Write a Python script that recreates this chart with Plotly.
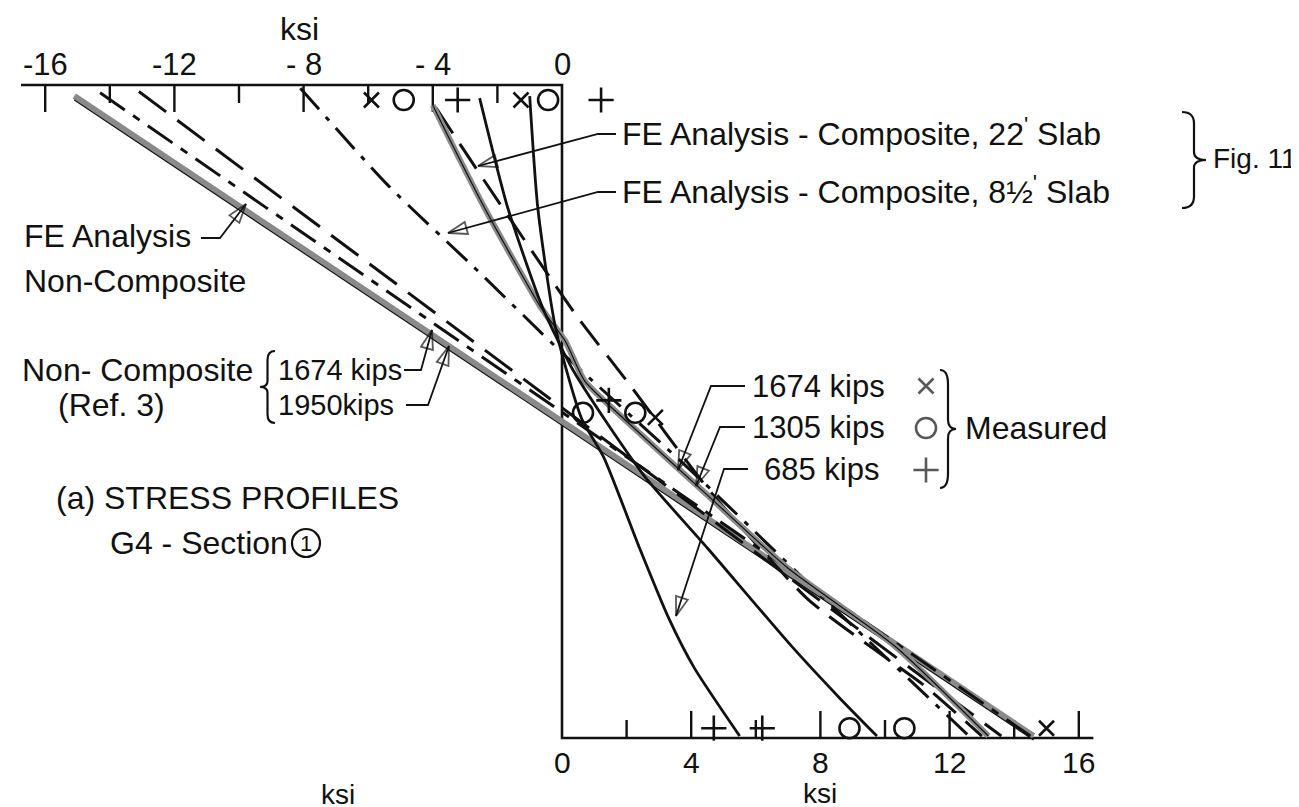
import plotly.graph_objects as go

# ---------------- data (stress in ksi, depth as fraction of girder depth: 0 = top flange, 1 = bottom flange) ----------------
top_tick_values = [-16, -14, -12, -10, -8, -6, -4, -2]
top_major_values = [-16, -12, -8, -4]
top_label_values = [-16, -12, -8, -4, 0]
top_label_text = ["-16", "-12", "- 8", "- 4", "0"]
bottom_tick_values = [2, 4, 6, 8, 10, 12, 14, 16]
bottom_major_values = [4, 8, 12, 16]
bottom_label_values = [0, 4, 8, 12, 16]
bottom_label_text = ["0", "4", "8", "12", "16"]

# FE analysis, non-composite and Ref. 3 non-composite profiles
fe_nc_stress = [-14.3, 14.5]
fe_nc_depth = [0.012, 0.997]
ref3_1674_stress = [-15.1, 14.6]
ref3_1674_depth = [0.017, 0.997]
ref3_1950_stress = [-13.1, 13.6]
ref3_1950_depth = [0.010, 0.997]

# FE analysis, composite profiles
fe_8half_stress = [-8.1, -5.4, -2.6, 0.0, 4.2, 8.4, 12.6]
fe_8half_depth = [0.005, 0.153, 0.285, 0.410, 0.600, 0.800, 0.997]
fe_22_stress = [-3.9, -2.67, 0.43, 2.05, 4.5, 7.6, 9.6, 11.2, 13.0]
fe_22_depth = [0.035, 0.127, 0.352, 0.456, 0.617, 0.787, 0.862, 0.919, 0.997]

# measured stress profiles
prof_685_stress = [-1.0, -0.75, -0.2, 0.6, 1.3, 2.4, 3.3, 4.1, 5.5]
prof_685_depth = [0.017, 0.188, 0.372, 0.510, 0.571, 0.709, 0.816, 0.893, 0.997]
prof_1305_stress = [-2.55, -1.68, -0.6, 0.3, 1.4, 2.6, 4.5, 7.1, 8.6, 9.75]
prof_1305_depth = [0.020, 0.188, 0.341, 0.433, 0.518, 0.602, 0.709, 0.859, 0.939, 0.997]
prof_1674_stress = [-4.0, -3.45, -2.4, -0.65, 0.1, 0.7, 2.0, 4.5, 7.0, 10.3, 13.2]
prof_1674_depth = [0.031, 0.086, 0.188, 0.341, 0.392, 0.453, 0.515, 0.628, 0.740, 0.859, 0.997]

# measured points
pts_1674_stress = [-5.9, -1.27, 2.89, 15.0]
pts_1674_depth = [0.023, 0.023, 0.509, 0.985]
pts_1305_stress = [-4.9, -0.43, 0.65, 2.27, 8.9, 10.6]
pts_1305_depth = [0.023, 0.023, 0.502, 0.502, 0.985, 0.985]
pts_685_stress = [-3.23, 1.21, 1.45, 4.7, 6.2]
pts_685_depth = [0.023, 0.023, 0.483, 0.985, 0.985]

# ---------------- layout helpers (pixel -> axis units, used for annotation placement only) ----------------
W, H = 1299, 807
X0, KX = 554.0, 32.3
Y0, KY = 77.0, 653.0


def sx(px):
    return (px - X0) / KX


def sy(py):
    return (py - Y0) / KY


FONT = "Liberation Sans, Arial, sans-serif"
BLACK = "#111111"
GRAY = "#8a8a8a"

fig = go.Figure()


def line(xs, ys, color=BLACK, width=3, dash="solid", shape="spline"):
    fig.add_trace(go.Scatter(x=xs, y=ys, mode="lines", hoverinfo="skip",
                             line=dict(color=color, width=width, dash=dash, shape=shape, smoothing=0.6)))


# ---- axes ----
line([sx(13), 0, 0, 16.45], [0, 0, 1, 1], width=2.6, shape="linear")
tx, ty = [], []
for v in top_tick_values:
    ln = 27 if v in top_major_values else 18
    tx += [v, v, None]
    ty += [0, ln / KY, None]
for v in bottom_tick_values:
    ln = 27 if v in bottom_major_values else 18
    tx += [v, v, None]
    ty += [1, 1 - ln / KY, None]
fig.add_trace(go.Scatter(x=tx, y=ty, mode="lines", hoverinfo="skip", line=dict(color=BLACK, width=2.4)))

# ---- profiles ----
line(ref3_1674_stress, ref3_1674_depth, color=GRAY, width=6)
line(ref3_1674_stress, [d + 0.006 for d in ref3_1674_depth], color=BLACK, width=1.2)
line(fe_nc_stress, fe_nc_depth, width=3, dash="30px,10px,8px,10px")
line(ref3_1950_stress, ref3_1950_depth, width=3, dash="34px,14px")
line(fe_8half_stress, fe_8half_depth, width=3, dash="28px,10px,5px,10px")
line(fe_22_stress, fe_22_depth, width=3, dash="30px,13px")
line(prof_1674_stress, prof_1674_depth, color=GRAY, width=6)
line(prof_1674_stress, prof_1674_depth, color=BLACK, width=1.2)
line(prof_1305_stress, prof_1305_depth, width=2.8)
line(prof_685_stress, prof_685_depth, width=2.8)

# ---- measured points ----
mk = dict(color=BLACK, line=dict(color=BLACK, width=2.6))
fig.add_trace(go.Scatter(x=pts_1674_stress, y=pts_1674_depth, mode="markers", hoverinfo="skip",
                         marker=dict(symbol="x-thin-open", size=15, **mk)))
fig.add_trace(go.Scatter(x=pts_1305_stress, y=pts_1305_depth, mode="markers", hoverinfo="skip",
                         marker=dict(symbol="circle-open", size=20, **mk)))
fig.add_trace(go.Scatter(x=pts_685_stress, y=pts_685_depth, mode="markers", hoverinfo="skip",
                         marker=dict(symbol="cross-thin-open", size=18, **mk)))


# ---- leaders with arrowheads ----
def leader(pts):
    xs = [sx(p[0]) for p in pts]
    ys = [sy(p[1]) for p in pts]
    sizes = [0] * (len(pts) - 1) + [20]
    fig.add_trace(go.Scatter(x=xs, y=ys, mode="lines+markers", hoverinfo="skip",
                             line=dict(color=BLACK, width=1.8),
                             marker=dict(symbol="arrow-open", size=sizes, angleref="previous",
                                         color=BLACK, line=dict(color=BLACK, width=1.8))))


leader([(608, 126), (590, 126), (470, 158)])
leader([(608, 184), (590, 184), (440, 225)])
leader([(193, 230), (212, 230), (238, 196)])
leader([(396, 362), (413, 362), (424, 322)])
leader([(398, 397), (420, 397), (441, 338)])
leader([(737, 378), (703, 378), (670, 462)])
leader([(737, 419), (712, 419), (688, 478)])
leader([(740, 461), (716, 461), (668, 608)])


# ---- braces ----
def brace(xbody, xtip, ytop, ybot):
    x, t = sx(xbody), sx(xtip)
    y0, y1 = sy(ytop), sy(ybot)
    ym = (y0 + y1) / 2
    h = y1 - y0
    xm = (x + t) / 2
    p = (f"M {x},{y0} Q {xm},{y0} {xm},{y0 + 0.12 * h} L {xm},{ym - 0.08 * h} "
         f"Q {xm},{ym} {t},{ym} Q {xm},{ym} {xm},{ym + 0.08 * h} L {xm},{y1 - 0.12 * h} "
         f"Q {xm},{y1} {x},{y1}")
    fig.add_shape(type="path", path=p, xref="x", yref="y", line=dict(color=BLACK, width=2.2))


brace(1174, 1198, 104, 200)
brace(267, 252, 343, 415)
brace(932, 948, 362, 480)


# ---- text ----
def text(s, px, py, size=32, anchor="left"):
    fig.add_annotation(x=sx(px), y=sy(py), xref="x", yref="y", text=s, showarrow=False,
                       xanchor=anchor, yanchor="middle",
                       font=dict(family=FONT, size=size, color=BLACK))


for v, s in zip(top_label_values, top_label_text):
    fig.add_annotation(x=v, y=sy(56), text=s, showarrow=False, xanchor="center", yanchor="middle",
                       font=dict(family=FONT, size=31, color=BLACK))
for v, s in zip(bottom_label_values, bottom_label_text):
    fig.add_annotation(x=v, y=sy(754), text=s, showarrow=False, xanchor="center", yanchor="middle",
                       font=dict(family=FONT, size=30, color=BLACK))
text("ksi", 291, 21, anchor="center")
text("ksi", 812, 785, size=28, anchor="center")
text("ksi", 330, 786, size=28, anchor="center")

text("FE Analysis - Composite, 22<sup>'</sup> Slab", 612, 124)
text("FE Analysis - Composite, 8½<sup>'</sup> Slab", 612, 182)
text("Fig. 11", 1203, 150, size=28)
text("FE Analysis", 14, 228)
text("Non-Composite", 14, 273)
text("Non- Composite", 12, 362)
text("(Ref. 3)", 48, 397)
text("1674 kips", 268, 362, size=29)
text("1950kips", 268, 397, size=29)
text("1674 kips", 742, 378, size=31)
text("1305 kips", 742, 419, size=31)
text("685 kips", 754, 461, size=31)
text("Measured", 955, 420)
text("(a) STRESS PROFILES", 46, 490)
text("G4 - Section", 100, 535)
text("1", 298, 535, size=22, anchor="center")

# circled section number and legend symbols next to the measured labels
fig.add_trace(go.Scatter(x=[sx(298)], y=[sy(535)], mode="markers", hoverinfo="skip",
                         marker=dict(symbol="circle-open", size=28, color=BLACK,
                                     line=dict(color=BLACK, width=2.2))))
fig.add_trace(go.Scatter(x=[sx(918), sx(918), sx(918)], y=[sy(378), sy(420), sy(462)], mode="markers",
                         hoverinfo="skip",
                         marker=dict(symbol=["x-thin-open", "circle-open", "cross-thin-open"], size=[15, 20, 18],
                                     color=BLACK, line=dict(color=BLACK, width=2.6))))

fig.update_layout(
    width=W, height=H, margin=dict(l=0, r=0, t=0, b=0),
    paper_bgcolor="white", plot_bgcolor="white", showlegend=False,
    xaxis=dict(range=[sx(0), sx(W)], visible=False, fixedrange=True),
    yaxis=dict(range=[sy(H), sy(0)], visible=False, fixedrange=True),
)

fig.write_html("out.html")
